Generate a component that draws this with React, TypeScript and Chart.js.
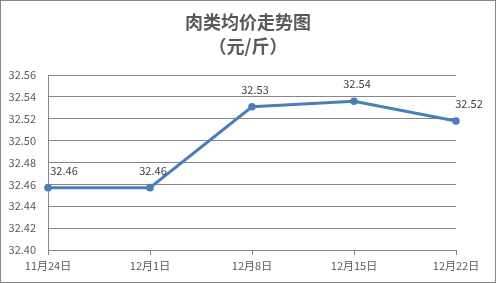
import React, { useEffect, useRef } from "react";
import { Chart, registerables } from "chart.js";

Chart.register(...registerables);

const categories = ["11月24日", "12月1日", "12月8日", "12月15日", "12月22日"];
const prices = [32.457, 32.457, 32.531, 32.536, 32.518];
const titleLines = ["肉类均价走势图", "（元/斤）"];
const yMin = 32.4;
const yMax = 32.56;
const yStep = 0.02;

const FONT = "'Noto Sans CJK SC', 'Noto Sans', sans-serif";

const titlePlugin = {
  id: "twoLineTitle",
  afterDraw(chart: any) {
    const ctx = chart.ctx;
    ctx.save();
    ctx.fillStyle = "#595959";
    ctx.font = `bold 18px ${FONT}`;
    ctx.textAlign = "center";
    ctx.textBaseline = "middle";
    ctx.fillText(titleLines[0], 248, 22);
    ctx.fillText(titleLines[1], 248, 46);
    ctx.restore();
  },
};

const labelPlugin = {
  id: "pointLabels",
  afterDatasetsDraw(chart: any) {
    const ctx = chart.ctx;
    const meta = chart.getDatasetMeta(0);
    const data = chart.data.datasets[0].data as number[];
    ctx.save();
    ctx.fillStyle = "#404040";
    ctx.font = `11px ${FONT}`;
    ctx.textBaseline = "middle";
    ctx.textAlign = "center";
    meta.data.forEach((pt: any, i: number) => {
      const txt = data[i].toFixed(2);
      let x = pt.x + 3;
      if (i === 0) x = pt.x + 16;
      else if (i === data.length - 1) x = pt.x + 13;
      ctx.fillText(txt, x, pt.y - 17);
    });
    ctx.restore();
  },
};

export default function App() {
  const ref = useRef<HTMLCanvasElement>(null);
  useEffect(() => {
    document.body.style.margin = "0";
    const chart = new Chart(ref.current!, {
      type: "line",
      data: {
        labels: categories,
        datasets: [
          {
            data: prices,
            borderColor: "#4a7ebb",
            backgroundColor: "#4a7ebb",
            borderWidth: 3,
            pointRadius: 3.8,
            pointBorderWidth: 0,
            pointBackgroundColor: "#4a7ebb",
            tension: 0,
          },
        ],
      },
      options: {
        animation: false,
        responsive: false,
        layout: { padding: { top: 75, right: 40, left: 0, bottom: 0 } },
        plugins: { legend: { display: false }, tooltip: { enabled: false }, title: { display: false } },
        scales: {
          x: {
            offset: false,
            grid: {
              display: true,
              drawOnChartArea: false,
              drawTicks: true,
              tickLength: 5,
              color: "#868686",
            },
            border: { display: true, color: "#868686" },
            ticks: {
              color: "#595959",
              font: { family: FONT, size: 11 },
              padding: 4,
              maxRotation: 0,
              autoSkip: false,
            },
            afterFit(scale: any) {
              scale.height = 33;
            },
          },
          y: {
            min: yMin,
            max: yMax,
            grid: { color: "#868686", drawTicks: false },
            border: { display: true, color: "#868686" },
            ticks: {
              stepSize: yStep,
              color: "#595959",
              font: { family: FONT, size: 11 },
              padding: 12,
              callback: (v: any) => Number(v).toFixed(2),
            },
            afterFit(scale: any) {
              scale.width = 48;
            },
          },
        },
      },
      plugins: [titlePlugin, labelPlugin],
    });
    return () => chart.destroy();
  }, []);
  return (
    <div style={{ width: 496, height: 283, position: "relative", background: "#fff" }}>
      <canvas ref={ref} width={496} height={283} style={{ display: "block", position: "absolute", left: 0, top: 0 }} />
      <div
        style={{
          position: "absolute",
          left: 0,
          top: 0,
          width: 496,
          height: 283,
          boxSizing: "border-box",
          border: "1px solid #868686",
          pointerEvents: "none",
        }}
      />
    </div>
  );
}
